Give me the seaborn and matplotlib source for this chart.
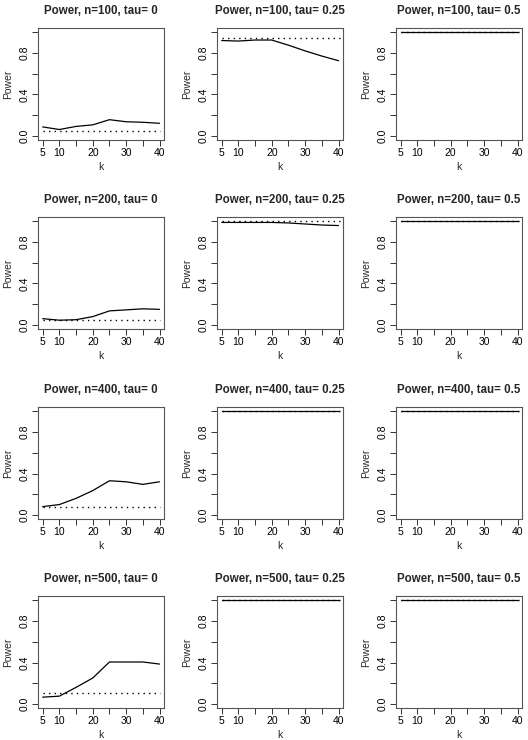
import matplotlib
matplotlib.use("Agg")
import matplotlib.pyplot as plt
import pandas as pd
import seaborn as sns

# data
k_values = [5, 10, 15, 20, 25, 30, 35, 40]
n_values = [100, 200, 400, 500]
tau_labels = ["0", "0.25", "0.5"]

power_tau0 = {
    100: [0.085, 0.06, 0.09, 0.105, 0.155, 0.135, 0.13, 0.12],
    200: [0.06, 0.045, 0.05, 0.08, 0.135, 0.145, 0.155, 0.15],
    400: [0.08, 0.10, 0.16, 0.235, 0.33, 0.32, 0.295, 0.32],
    500: [0.065, 0.075, 0.16, 0.25, 0.405, 0.405, 0.405, 0.385],
}
power_tau025 = {
    100: [0.92, 0.915, 0.925, 0.925, 0.875, 0.82, 0.77, 0.725],
    200: [0.99, 0.99, 0.99, 0.99, 0.985, 0.975, 0.965, 0.96],
    400: [1.0, 1.0, 1.0, 1.0, 1.0, 1.0, 1.0, 1.0],
    500: [1.0, 1.0, 1.0, 1.0, 1.0, 1.0, 1.0, 1.0],
}
power_tau05 = {
    100: [1.0, 1.0, 1.0, 1.0, 1.0, 1.0, 1.0, 1.0],
    200: [1.0, 1.0, 1.0, 1.0, 1.0, 1.0, 1.0, 1.0],
    400: [1.0, 1.0, 1.0, 1.0, 1.0, 1.0, 1.0, 1.0],
    500: [1.0, 1.0, 1.0, 1.0, 1.0, 1.0, 1.0, 1.0],
}
# dotted reference level per panel
ref_tau0 = {100: 0.05, 200: 0.05, 400: 0.078, 500: 0.11}
ref_tau025 = {100: 0.94, 200: 1.0, 400: 1.0, 500: 1.0}
ref_tau05 = {100: 1.0, 200: 1.0, 400: 1.0, 500: 1.0}
# dotted line x extent: tau=0 column spans k range, others run to the box edge
ref_x_narrow = [5, 40]
ref_x_wide = [5, 45]

x_ticks = [5, 10, 15, 20, 25, 30, 35, 40]
x_ticklabels = ["5", "10", "", "20", "", "30", "", "40"]
y_ticks = [0.0, 0.2, 0.4, 0.6, 0.8, 1.0]
y_ticklabels = ["0.0", "", "0.4", "", "0.8", ""]

sns.set_style("ticks")
plt.rcParams["font.family"] = ["Liberation Sans", "DejaVu Sans"]

fig = plt.figure(figsize=(5.28, 7.40), dpi=100)

col_lefts = [0.072, 0.411, 0.750]
row_bottoms = [0.811, 0.5554, 0.2986, 0.0432]
ax_w, ax_h = 0.239, 0.151

columns = [
    (power_tau0, ref_tau0, ref_x_narrow),
    (power_tau025, ref_tau025, ref_x_wide),
    (power_tau05, ref_tau05, ref_x_wide),
]

for r, n in enumerate(n_values):
    for c, (powers, refs, ref_x) in enumerate(columns):
        ax = fig.add_axes([col_lefts[c], row_bottoms[r], ax_w, ax_h])
        df = pd.DataFrame({"k": k_values, "power": powers[n]})
        ref_df = pd.DataFrame({"k": ref_x, "power": [refs[n]] * len(ref_x)})
        sns.lineplot(data=ref_df, x="k", y="power", ax=ax, color="black",
                     linewidth=1.0, linestyle=(0, (1, 3)))
        sns.lineplot(data=df, x="k", y="power", ax=ax, color="black",
                     linewidth=0.9)
        ax.set_xlim(3.6, 41.4)
        ax.set_ylim(-0.04, 1.04)
        ax.set_xticks(x_ticks)
        ax.set_xticklabels(x_ticklabels)
        ax.set_yticks(y_ticks)
        ax.set_yticklabels(y_ticklabels, rotation=90, va="center")
        ax.tick_params(axis="both", labelsize=7.5, length=4, width=0.7,
                       colors="#333333", labelcolor="black", pad=2)
        for s in ax.spines.values():
            s.set_visible(True)
            s.set_linewidth(0.8)
            s.set_color("#555555")
        ax.set_xlabel("k", fontsize=7.5, labelpad=2.5)
        ax.set_ylabel("Power", fontsize=7.5, labelpad=5)
        ax.set_title(f"Power, n={n}, tau= {tau_labels[c]}", fontsize=8.3,
                     fontweight="bold", pad=10)

fig.savefig("out.png", dpi=100)
